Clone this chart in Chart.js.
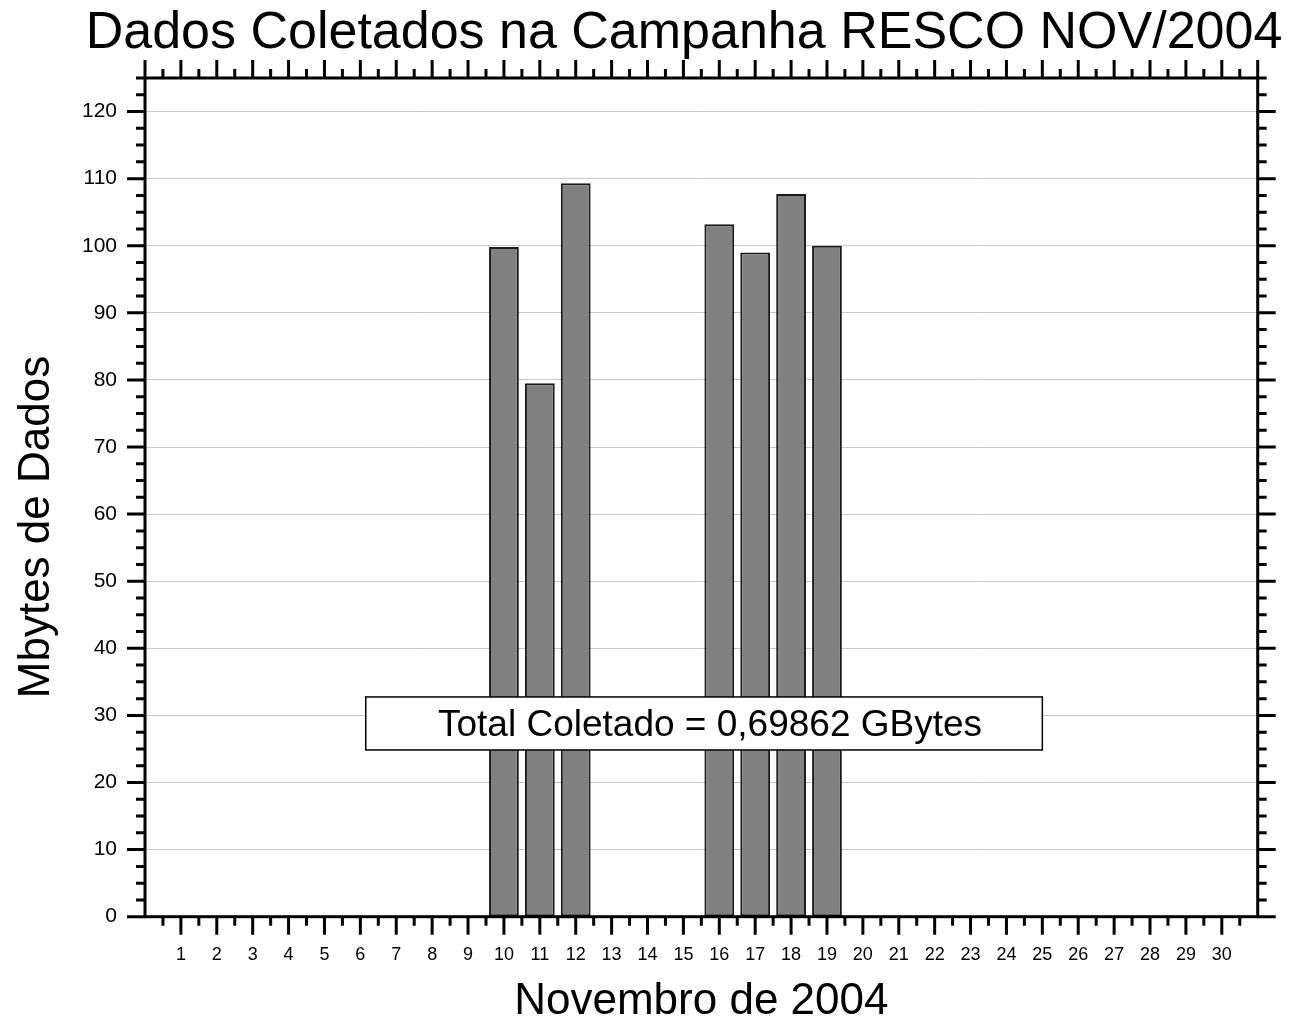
<!DOCTYPE html>
<html>
<head>
<meta charset="utf-8">
<script src="https://cdn.jsdelivr.net/npm/chart.js@4.4.1/dist/chart.umd.min.js"></script>
<style>
  html, body { margin: 0; padding: 0; background: #fff; }
  #wrap { width: 1297px; height: 1024px; position: relative; }
</style>
</head>
<body>
<div id="wrap"><canvas id="chart"></canvas></div>
<script>
// Data (Mbytes per day, November 2004)
const days = [10, 11, 12, 16, 17, 18, 19]
const mbytes = [99.8, 79.5, 109.3, 103.2, 99.0, 107.7, 100.0]
const dayTicks = Array.from({ length: 30 }, (_, i) => i + 1)
const chartTitle = 'Dados Coletados na Campanha RESCO NOV/2004'
const xTitle = 'Novembro de 2004'
const yTitle = 'Mbytes de Dados'
const totalLabel = 'Total Coletado = 0,69862 GBytes'

const FONT = '"Liberation Sans", Arial, Helvetica, sans-serif'

// Frame, outward major/minor ticks on all four sides
const framePlugin = {
  id: 'frame',
  afterDraw(chart) {
    const { ctx, chartArea: a, scales } = chart
    const x = scales.x
    const y = scales.y
    ctx.save()
    ctx.strokeStyle = '#000'
    ctx.lineWidth = 3
    ctx.lineCap = 'butt'
    ctx.beginPath()
    // bottom / top ticks
    for (let v = 0; v <= 31; v += 0.5) {
      const px = x.getPixelForValue(v)
      const major = Number.isInteger(v)
      const len = major ? 18 : 9
      if (v > 0 && v < 31) {
        ctx.moveTo(px, a.bottom)
        ctx.lineTo(px, a.bottom + len)
      }
      ctx.moveTo(px, a.top)
      ctx.lineTo(px, a.top - len)
    }
    // left / right ticks
    for (let v = 0; v <= 125; v += 2.5) {
      const py = y.getPixelForValue(v)
      const len = v % 10 === 0 ? 18 : 9
      ctx.moveTo(a.left, py)
      ctx.lineTo(a.left - len, py)
      ctx.moveTo(a.right, py)
      ctx.lineTo(a.right + len, py)
    }
    ctx.stroke()
    ctx.strokeRect(a.left, a.top, a.right - a.left, a.bottom - a.top)
    ctx.restore()
  }
}

// "Total Coletado" box, placed in data units
const totalBoxPlugin = {
  id: 'totalBox',
  afterDatasetsDraw(chart) {
    const { ctx, scales } = chart
    const x0 = scales.x.getPixelForValue(6.15)
    const x1 = scales.x.getPixelForValue(25.0)
    const y0 = scales.y.getPixelForValue(32.75)
    const y1 = scales.y.getPixelForValue(24.85)
    ctx.save()
    ctx.fillStyle = '#fff'
    ctx.fillRect(x0, y0, x1 - x0, y1 - y0)
    ctx.strokeStyle = '#000'
    ctx.lineWidth = 1.5
    ctx.strokeRect(x0, y0, x1 - x0, y1 - y0)
    ctx.fillStyle = '#000'
    ctx.font = '37px ' + FONT
    ctx.textAlign = 'center'
    ctx.textBaseline = 'middle'
    ctx.fillText(totalLabel, (x0 + x1) / 2 + 6, (y0 + y1) / 2 + 2)
    ctx.restore()
  }
}

// Chart and axis titles
const titlesPlugin = {
  id: 'titles',
  afterDraw(chart) {
    const { ctx, chartArea: a } = chart
    ctx.save()
    ctx.fillStyle = '#000'
    ctx.textBaseline = 'alphabetic'
    ctx.textAlign = 'center'
    ctx.font = '52px ' + FONT
    ctx.fillText(chartTitle, 684, 48)
    ctx.font = '44px ' + FONT
    ctx.fillText(xTitle, (a.left + a.right) / 2, 1014)
    ctx.translate(49, 527)
    ctx.rotate(-Math.PI / 2)
    ctx.fillText(yTitle, 0, 0)
    ctx.restore()
  }
}

const chart = new Chart(document.getElementById('chart'), {
  type: 'bar',
  data: {
    datasets: [
      {
        data: days.map((d, i) => ({ x: d, y: mbytes[i] })),
        backgroundColor: '#808080',
        borderColor: '#1a1a1a',
        borderWidth: 2,
        borderSkipped: false,
        barPercentage: 0.83,
        categoryPercentage: 1.0
      }
    ]
  },
  options: {
    responsive: true,
    maintainAspectRatio: false,
    animation: false,
    layout: {
      padding: { top: 78, right: 39.3, bottom: 0, left: 0 }
    },
    scales: {
      x: {
        type: 'linear',
        offset: false,
        min: 0,
        max: 31,
        afterFit: (s) => { s.height = 107.3 },
        afterBuildTicks: (s) => {
          s.ticks = dayTicks.map((v) => ({ value: v }))
        },
        ticks: {
          autoSkip: false,
          maxRotation: 0,
          padding: 28,
          color: '#000',
          font: { family: FONT, size: 18 },
          callback: (v) => String(v)
        },
        grid: { display: false, drawTicks: false },
        border: { display: false }
      },
      y: {
        min: 0,
        max: 125,
        afterFit: (s) => { s.width = 145 },
        ticks: {
          stepSize: 10,
          includeBounds: false,
          padding: 28,
          color: '#000',
          font: { family: FONT, size: 21 }
        },
        grid: { color: '#c8c8c8', lineWidth: 1, drawTicks: false },
        border: { display: false }
      }
    },
    plugins: {
      legend: { display: false },
      tooltip: { enabled: false }
    }
  },
  plugins: [totalBoxPlugin, framePlugin, titlesPlugin]
})
</script>
</body>
</html>
